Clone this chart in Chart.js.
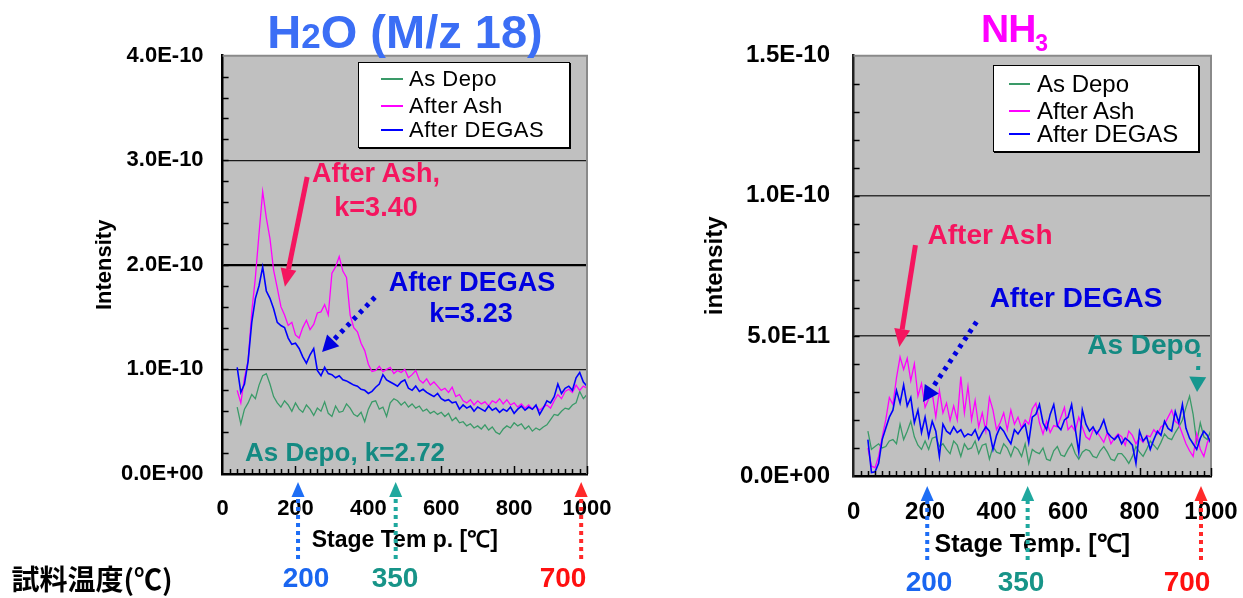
<!DOCTYPE html>
<html>
<head>
<meta charset="utf-8">
<script src="https://cdn.jsdelivr.net/npm/chart.js@4.4.1/dist/chart.umd.min.js"></script>
<style>
  html, body { margin: 0; padding: 0; background: #fff; width: 1243px; height: 598px; overflow: hidden; }
  #stage { position: relative; width: 1243px; height: 598px; font-family: "Liberation Sans", Arial, sans-serif; }
  canvas { position: absolute; top: 0; }
  #h2o { left: 0; }
  #nh3 { left: 620px; }
  .t { position: absolute; transform: translate(-50%, -50%); white-space: nowrap; font-weight: bold; line-height: 1; z-index: 2; }
  .legend { position: absolute; background: #fff; border: 1px solid #000; box-shadow: 1px 1px 0 #000; z-index: 2; }
  .legend .row { position: absolute; white-space: nowrap; line-height: 1; color: #000; }
  .legend .swatch { position: absolute; height: 2px; }
  .ann-ash { color: #f5155f; }
  .ann-degas { color: #0000e0; }
  .ann-depo { color: #148a82; }
</style>
</head>
<body>
<div id="stage">
  <canvas id="h2o" width="620" height="598"></canvas>
  <canvas id="nh3" width="623" height="598"></canvas>

  <div class="t" style="left:405px;top:31px;font-size:47px;color:#3b6ef5;">H<span style="font-size:35px;">2</span>O (M/z 18)</div>
  <div style="position:absolute;left:981px;top:9px;font-size:39px;font-weight:bold;line-height:1;color:#ff00ff;letter-spacing:-1px;white-space:nowrap;z-index:2;">NH<span style="font-size:23px;position:relative;top:9px;">3</span></div>

  <div id="legend-h2o" class="legend" style="left:358px;top:62px;width:210px;height:84px;"></div>
  <div id="legend-nh3" class="legend" style="left:993px;top:65px;width:204px;height:85px;"></div>

  <div class="t ann-ash" style="left:376px;top:173px;font-size:27px;">After Ash,</div>
  <div class="t ann-ash" style="left:376px;top:207px;font-size:27px;">k=3.40</div>
  <div class="t ann-degas" style="left:472px;top:282px;font-size:27px;">After DEGAS</div>
  <div class="t ann-degas" style="left:471px;top:313px;font-size:27px;">k=3.23</div>
  <div class="t ann-depo" style="left:345px;top:452px;font-size:26px;">As Depo, k=2.72</div>

  <div class="t ann-ash" style="left:990px;top:235px;font-size:28px;">After Ash</div>
  <div class="t ann-degas" style="left:1076px;top:298px;font-size:28px;">After DEGAS</div>
  <div class="t ann-depo" style="left:1144px;top:345px;font-size:28px;">As Depo</div>

  <div class="t" style="left:92px;top:578px;font-size:28px;color:#000;font-family:'Noto Sans CJK JP','Liberation Sans',sans-serif;">試料温度(℃)</div>
  <div class="t" style="left:306px;top:578px;font-size:28px;color:#1a66f0;">200</div>
  <div class="t" style="left:395px;top:578px;font-size:28px;color:#179488;">350</div>
  <div class="t" style="left:563px;top:578px;font-size:28px;color:#ff1010;">700</div>
  <div class="t" style="left:929px;top:582px;font-size:28px;color:#1a66f0;">200</div>
  <div class="t" style="left:1021px;top:582px;font-size:28px;color:#179488;">350</div>
  <div class="t" style="left:1187px;top:582px;font-size:28px;color:#ff1010;">700</div>
</div>

<script>
// Stage temperature (°C) of every sample in the desorption spectra.
const TEMPS = [
  40, 50, 60, 70, 80, 90, 100, 110, 120, 130,
  140, 150, 160, 170, 180, 190, 200, 210, 220, 230,
  240, 250, 260, 270, 280, 290, 300, 310, 320, 330,
  340, 350, 360, 370, 380, 390, 400, 410, 420, 430,
  440, 450, 460, 470, 480, 490, 500, 510, 520, 530,
  540, 550, 560, 570, 580, 590, 600, 610, 620, 630,
  640, 650, 660, 670, 680, 690, 700, 710, 720, 730,
  740, 750, 760, 770, 780, 790, 800, 810, 820, 830,
  840, 850, 860, 870, 880, 890, 900, 910, 920, 930,
  940, 950, 960, 970, 980, 990, 1000
];

// H2O (M/z 18) intensity, in units of 1E-10
const H2O_AS_DEPO = [
  0.64, 0.48, 0.62, 0.68, 0.76, 0.72, 0.85, 0.94, 0.96, 0.86,
  0.74, 0.68, 0.64, 0.70, 0.66, 0.60, 0.68, 0.62, 0.59, 0.66,
  0.62, 0.56, 0.63, 0.60, 0.69, 0.58, 0.55, 0.65, 0.59, 0.60,
  0.67, 0.63, 0.57, 0.55, 0.59, 0.50, 0.62, 0.69, 0.70, 0.62,
  0.64, 0.55, 0.68, 0.72, 0.70, 0.66, 0.69, 0.64, 0.67, 0.63,
  0.65, 0.60, 0.62, 0.58, 0.60, 0.57, 0.59, 0.55, 0.58, 0.51,
  0.54, 0.49, 0.50, 0.46, 0.48, 0.44, 0.46, 0.43, 0.47, 0.42,
  0.45, 0.40, 0.38, 0.43, 0.46, 0.44, 0.49, 0.46, 0.48, 0.43,
  0.46, 0.41, 0.44, 0.42, 0.45, 0.47, 0.52, 0.57, 0.56, 0.60,
  0.63, 0.62, 0.66, 0.68, 0.79, 0.72, 0.76
];
const H2O_AFTER_ASH = [
  0.80, 0.68, 0.92, 1.08, 1.55, 1.88, 2.30, 2.70, 2.45, 2.25,
  1.95, 1.78, 1.60, 1.52, 1.42, 1.45, 1.33, 1.30, 1.40, 1.47,
  1.38, 1.43, 1.54, 1.55, 1.62, 1.52, 1.92, 1.98, 2.08, 1.94,
  1.88, 1.52, 1.40, 1.36, 1.25, 1.18, 1.05, 0.98, 0.99, 1.03,
  0.98, 1.00, 1.02, 0.96, 0.99, 0.97, 1.00, 0.92, 0.95, 0.99,
  0.90, 0.87, 0.91, 0.85, 0.88, 0.84, 0.80, 0.82, 0.78, 0.83,
  0.74, 0.76, 0.70, 0.68, 0.71, 0.66, 0.70, 0.67, 0.69, 0.65,
  0.70, 0.68, 0.72, 0.67, 0.71, 0.66, 0.68, 0.64, 0.67, 0.63,
  0.66, 0.62, 0.65, 0.61, 0.64, 0.66, 0.63, 0.70, 0.76, 0.72,
  0.79, 0.81, 0.78, 0.85, 0.80, 0.84, 0.82
];
const H2O_AFTER_DEGAS = [
  1.02, 0.78, 0.86, 1.08, 1.45, 1.68, 1.80, 1.98, 1.75, 1.68,
  1.58, 1.45, 1.42, 1.40, 1.30, 1.24, 1.25, 1.20, 1.12, 1.06,
  1.14, 1.20, 0.99, 0.94, 1.02, 0.96, 0.95, 0.92, 0.94, 0.90,
  0.89, 0.87, 0.85, 0.84, 0.81, 0.80, 0.77, 0.79, 0.83, 0.86,
  0.95, 0.90, 0.88, 0.86, 0.84, 0.88, 0.90, 0.82, 0.80, 0.84,
  0.79, 0.81, 0.78, 0.76, 0.74, 0.77, 0.72, 0.70, 0.71, 0.68,
  0.69, 0.62, 0.66, 0.63, 0.65, 0.60, 0.64, 0.62, 0.60, 0.65,
  0.61, 0.63, 0.59, 0.62, 0.60, 0.64, 0.58, 0.62, 0.65, 0.61,
  0.64, 0.62, 0.66, 0.57, 0.63, 0.70, 0.68, 0.74, 0.86, 0.77,
  0.82, 0.84, 0.80, 0.92, 0.97, 0.88, 0.84
];

// NH3 intensity, in units of 1E-11
const NH3_AS_DEPO = [
  1.60, 0.95, 1.05, 1.15, 1.00, 1.05, 1.25, 1.30, 1.15, 1.85,
  1.30, 1.60, 1.95, 1.40, 1.10, 0.95, 1.25, 0.95, 1.35, 1.40,
  1.05, 1.15, 0.95, 0.80, 1.25, 1.10, 0.70, 1.15, 0.95, 1.00,
  1.25, 0.80, 1.10, 1.15, 0.60, 1.05, 0.85, 0.80, 1.15, 1.00,
  0.70, 1.05, 0.95, 0.70, 1.15, 0.45, 0.95, 0.85, 0.80, 1.00,
  0.60, 0.55, 0.90, 1.05, 0.75, 0.70, 0.95, 1.15, 0.80, 0.60,
  0.85, 0.95, 0.90, 0.70, 0.65, 0.90, 1.05, 0.85, 0.60, 0.55,
  0.80, 0.80, 0.65, 0.45, 0.70, 1.05, 0.85, 0.70, 0.95, 1.25,
  1.10, 0.95, 1.20, 1.50, 1.35, 1.30, 1.55, 1.75, 2.00, 2.45,
  2.85, 2.20, 1.20, 1.90, 1.40, 1.30, 1.65
];
const NH3_AFTER_ASH = [
  1.00, 0.35, 0.30, 0.70, 1.40, 2.00, 2.80, 2.55, 3.50, 4.25,
  3.80, 4.20, 3.40, 4.00, 2.85, 3.30, 2.45, 2.75, 2.95, 2.10,
  3.05, 2.25, 2.60, 1.98, 2.50, 2.00, 3.55, 2.25, 3.20, 2.00,
  2.70, 1.75, 2.25, 1.60, 2.80, 2.35, 1.65, 1.90, 2.25, 1.65,
  2.35, 1.85, 2.10, 1.70, 2.00, 1.85, 2.40, 2.60, 1.90, 1.50,
  1.95, 1.55, 1.80, 1.75, 2.10, 2.45, 1.65, 1.80, 1.60, 2.10,
  1.75, 1.40, 1.30, 1.65, 1.60, 1.40, 1.20, 1.55, 1.15, 1.35,
  1.50, 1.40, 1.10, 1.60, 1.45, 1.15, 1.35, 1.20, 1.45, 1.40,
  1.65, 1.50, 1.75, 1.85, 2.10, 2.35, 1.95, 1.85, 1.50, 1.15,
  0.90, 0.70, 1.50, 0.95, 0.70, 1.20, 1.40
];
const NH3_AFTER_DEGAS = [
  1.30, 0.12, 0.15, 0.45, 1.30, 1.70, 2.10, 2.35, 3.05, 2.60,
  3.25, 2.50, 2.80, 1.90, 2.35, 1.55, 2.10, 1.40, 1.95, 1.60,
  0.70, 1.85, 1.60, 1.50, 1.75, 1.55, 1.65, 1.40, 1.50, 1.45,
  1.65, 1.30, 1.55, 1.75, 1.60, 0.95, 1.45, 1.75, 1.60, 1.35,
  1.15, 1.65, 1.50, 1.70, 1.85, 1.20, 2.10, 2.20, 2.55, 1.90,
  1.65, 2.20, 2.55, 1.80, 1.65, 2.00, 2.10, 2.55, 1.70, 0.85,
  2.35, 1.85, 1.60, 1.75, 1.50, 1.70, 2.00, 1.55, 1.40, 1.30,
  1.45, 1.15, 1.35, 1.25, 1.10, 0.45, 1.60, 1.25, 1.40, 0.95,
  1.30, 1.60, 1.45, 1.95, 1.70, 1.60, 2.30, 1.90, 2.55, 1.70,
  1.35, 1.15, 0.95, 1.35, 1.60, 1.45, 1.15
];

const SERIES_NAMES = ['As Depo', 'After Ash', 'After DEGAS'];
const SERIES_COLORS = ['#3a9a68', '#ff00ff', '#0000ff'];

const X_TICKS = ['0', '200', '400', '600', '800', '1000'];
const H2O_Y_TICKS = ['0.0E+00', '1.0E-10', '2.0E-10', '3.0E-10', '4.0E-10'];
const NH3_Y_TICKS = ['0.0E+00', '5.0E-11', '1.0E-10', '1.5E-10'];

// Sample temperatures (°C) and the stage temperature each one corresponds to
const SAMPLE_TEMPS = ['200', '350', '700'];
const SAMPLE_COLORS = ['#1e6ef5', '#1fa89e', '#ff2a2a'];
const H2O_STAGE_AT_SAMPLE = [207, 475, 984];
const NH3_STAGE_AT_SAMPLE = [206, 487, 972];

// Arrow callouts, in data coordinates (stage temp, intensity)
const DECOR = {
  h2o: {
    yMinor: 0.2, frame: '#8a8a8a',
    arrows: [
      { from: [232, 2.84], to: [171, 1.79], color: '#f5155f', width: 5, dash: null, head: 18, headW: 16 },
      { from: [418, 1.69], to: [273, 1.167], color: '#0000e0', width: 5, dash: [4, 5], head: 16, headW: 17 }
    ],
    stages: H2O_STAGE_AT_SAMPLE, tipGap: 8, tailGap: 85
  },
  nh3: {
    yMinor: 1, frame: '#8a8a8a',
    arrows: [
      { from: [173, 8.24], to: [128, 4.60], color: '#f5155f', width: 5, dash: null, head: 18, headW: 16 },
      { from: [344, 5.50], to: [194, 2.64], color: '#0000e0', width: 5, dash: [4, 5], head: 16, headW: 17 },
      { from: [966, 4.39], to: [961, 3.0], color: '#16978f', width: 4, dash: [4, 9], head: 15, headW: 17 }
    ],
    stages: NH3_STAGE_AT_SAMPLE, tipGap: 10, tailGap: 84
  }
};

function drawArrow(ctx, x1, y1, x2, y2, o) {
  const ang = Math.atan2(y2 - y1, x2 - x1);
  const bx = x2 - Math.cos(ang) * o.head, by = y2 - Math.sin(ang) * o.head;
  ctx.save();
  ctx.strokeStyle = o.color; ctx.fillStyle = o.color; ctx.lineWidth = o.width;
  ctx.setLineDash(o.dash || []);
  ctx.beginPath(); ctx.moveTo(x1, y1); ctx.lineTo(bx, by); ctx.stroke();
  ctx.setLineDash([]);
  const nx = Math.sin(ang) * o.headW / 2, ny = -Math.cos(ang) * o.headW / 2;
  ctx.beginPath();
  ctx.moveTo(x2, y2); ctx.lineTo(bx + nx, by + ny); ctx.lineTo(bx - nx, by - ny);
  ctx.closePath(); ctx.fill();
  ctx.restore();
}

const decorPlugin = {
  id: 'decor',
  beforeDraw(chart) {
    const a = chart.chartArea, ctx = chart.ctx;
    ctx.save();
    ctx.fillStyle = '#c0c0c0';
    ctx.fillRect(a.left, a.top, a.right - a.left, a.bottom - a.top);
    ctx.restore();
  },
  afterDraw(chart) {
    const d = DECOR[chart.canvas.id];
    const a = chart.chartArea, ctx = chart.ctx;
    const xs = chart.scales.x, ys = chart.scales.y;
    ctx.save();
    // top and right frame of the plot area
    ctx.strokeStyle = d.frame; ctx.lineWidth = 2;
    ctx.beginPath(); ctx.moveTo(a.left, a.top); ctx.lineTo(a.right, a.top); ctx.lineTo(a.right, a.bottom); ctx.stroke();
    // inward minor ticks
    ctx.strokeStyle = '#000'; ctx.lineWidth = 1.5;
    const nY = Math.round((ys.max - ys.min) / d.yMinor);
    for (let i = 1; i < nY; i++) {
      const py = Math.round(ys.getPixelForValue(ys.min + i * d.yMinor)) + 0.5;
      ctx.beginPath(); ctx.moveTo(a.left, py); ctx.lineTo(a.left + 6, py); ctx.stroke();
    }
    for (let i = 1; i <= 50; i++) {
      const px = Math.round(xs.getPixelForValue(i * 20)) + 0.5;
      const len = (i % 10 === 0) ? 8 : 5;
      ctx.beginPath(); ctx.moveTo(px, a.bottom); ctx.lineTo(px, a.bottom - len); ctx.stroke();
    }
    ctx.restore();
    // callout arrows
    d.arrows.forEach(ar => {
      drawArrow(ctx,
        xs.getPixelForValue(ar.from[0]), ys.getPixelForValue(ar.from[1]),
        xs.getPixelForValue(ar.to[0]), ys.getPixelForValue(ar.to[1]), ar);
    });
    // sample-temperature markers under the axis
    d.stages.forEach((st, i) => {
      const px = xs.getPixelForValue(st);
      drawArrow(ctx, px, a.bottom + d.tailGap, px, a.bottom + d.tipGap,
        { color: SAMPLE_COLORS[i], width: 4, dash: [4, 4], head: 15, headW: 13 });
    });
  }
};

function buildLegend(id, o) {
  const box = document.getElementById(id);
  SERIES_NAMES.forEach((name, i) => {
    const sw = document.createElement('div');
    sw.className = 'swatch';
    sw.style.cssText = `left:${o.lineX}px;width:${o.lineW}px;top:${o.rows[i] - 1}px;background:${SERIES_COLORS[i]};`;
    box.appendChild(sw);
    const r = document.createElement('div');
    r.className = 'row';
    r.textContent = name;
    r.style.cssText = `left:${o.textX}px;top:${o.rows[i] - o.size / 2}px;font-size:${o.size}px;letter-spacing:${o.spacing}px;`;
    box.appendChild(r);
  });
}

function buildChart(id, series, o) {
  const tickFont = { family: 'Liberation Sans', size: o.tickSize, weight: 'bold' };
  return new Chart(document.getElementById(id), {
    type: 'line',
    data: {
      datasets: series.map((vals, i) => ({
        label: SERIES_NAMES[i],
        data: TEMPS.map((t, k) => ({ x: t, y: vals[k] })),
        borderColor: SERIES_COLORS[i],
        borderWidth: i === 2 ? 1.6 : 1.3,
        pointRadius: 0,
        tension: 0,
        fill: false,
        order: 3 - i
      }))
    },
    options: {
      responsive: false,
      animation: false,
      events: [],
      layout: { padding: o.padding },
      plugins: { legend: { display: false }, title: { display: false }, tooltip: { enabled: false } },
      scales: {
        x: {
          type: 'linear', min: 0, max: 1000,
          // fixed axis height; end labels may hang into the side margins
          afterFit: s => { s.height = o.xHeight; s.paddingLeft = 0; s.paddingRight = 0; },
          grid: { display: false, drawTicks: false },
          border: { display: true, color: '#000', width: 2.5 },
          ticks: { stepSize: 200, autoSkip: false, maxRotation: 0, padding: o.xTickPad, color: '#000', font: tickFont,
                   callback: v => X_TICKS[Math.round(v / 200)] },
          title: { display: true, text: o.xTitle, color: '#000', padding: { top: 0, bottom: o.xTitlePad },
                   font: { family: 'Liberation Sans', size: o.xTitleSize, weight: 'bold' } }
        },
        y: {
          type: 'linear', min: 0, max: o.yMax,
          afterFit: s => { s.width = o.yWidth; s.paddingTop = 0; s.paddingBottom = 0; },
          grid: { drawTicks: false, color: c => o.gridColors[c.index], lineWidth: c => o.gridWidths[c.index] },
          border: { display: true, color: o.yBorder, width: 2.5 },
          ticks: { stepSize: o.yStep, autoSkip: false, padding: o.yTickPad, color: '#000', font: tickFont,
                   callback: v => o.yLabels[Math.round(v / o.yStep)] },
          title: { display: true, text: o.yTitle, color: '#000', padding: { top: 0, bottom: 0 },
                   font: { family: 'Liberation Sans', size: o.yTitleSize, weight: 'bold' } }
        }
      }
    },
    plugins: [decorPlugin]
  });
}

buildChart('h2o', [H2O_AS_DEPO, H2O_AFTER_ASH, H2O_AFTER_DEGAS], {
  padding: { left: 91.8, right: 33, top: 55.7, bottom: 0 },
  xHeight: 124, yWidth: 130.8, yMax: 4, yStep: 1, yLabels: H2O_Y_TICKS,
  tickSize: 22, xTickPad: 22, yTickPad: 19,
  xTitle: 'Stage Tem p. [℃]', xTitleSize: 23, xTitlePad: 44,
  yTitle: 'Intensity', yTitleSize: 22,
  yBorder: '#000',
  gridColors: ['rgba(0,0,0,0)', '#1a1a1a', '#000', '#1a1a1a', 'rgba(0,0,0,0)'],
  gridWidths: [1, 1.2, 2.2, 1.2, 1]
});

buildChart('nh3', [NH3_AS_DEPO, NH3_AFTER_ASH, NH3_AFTER_DEGAS], {
  padding: { left: 80.6, right: 32, top: 55.7, bottom: 0 },
  xHeight: 122, yWidth: 153, yMax: 15, yStep: 5, yLabels: NH3_Y_TICKS,
  tickSize: 24, xTickPad: 22, yTickPad: 23.6,
  xTitle: 'Stage Temp. [℃]', xTitleSize: 25, xTitlePad: 38,
  yTitle: 'intensity', yTitleSize: 24,
  yBorder: '#222',
  gridColors: ['rgba(0,0,0,0)', '#333', '#333', 'rgba(0,0,0,0)'],
  gridWidths: [1, 1.5, 1.5, 1]
});

buildLegend('legend-h2o', { lineX: 22, lineW: 22, textX: 50, rows: [16, 43, 67], size: 22, spacing: 0.5 });
buildLegend('legend-nh3', { lineX: 15, lineW: 21, textX: 43, rows: [18, 45, 68], size: 24, spacing: 0 });
</script>
</body>
</html>
